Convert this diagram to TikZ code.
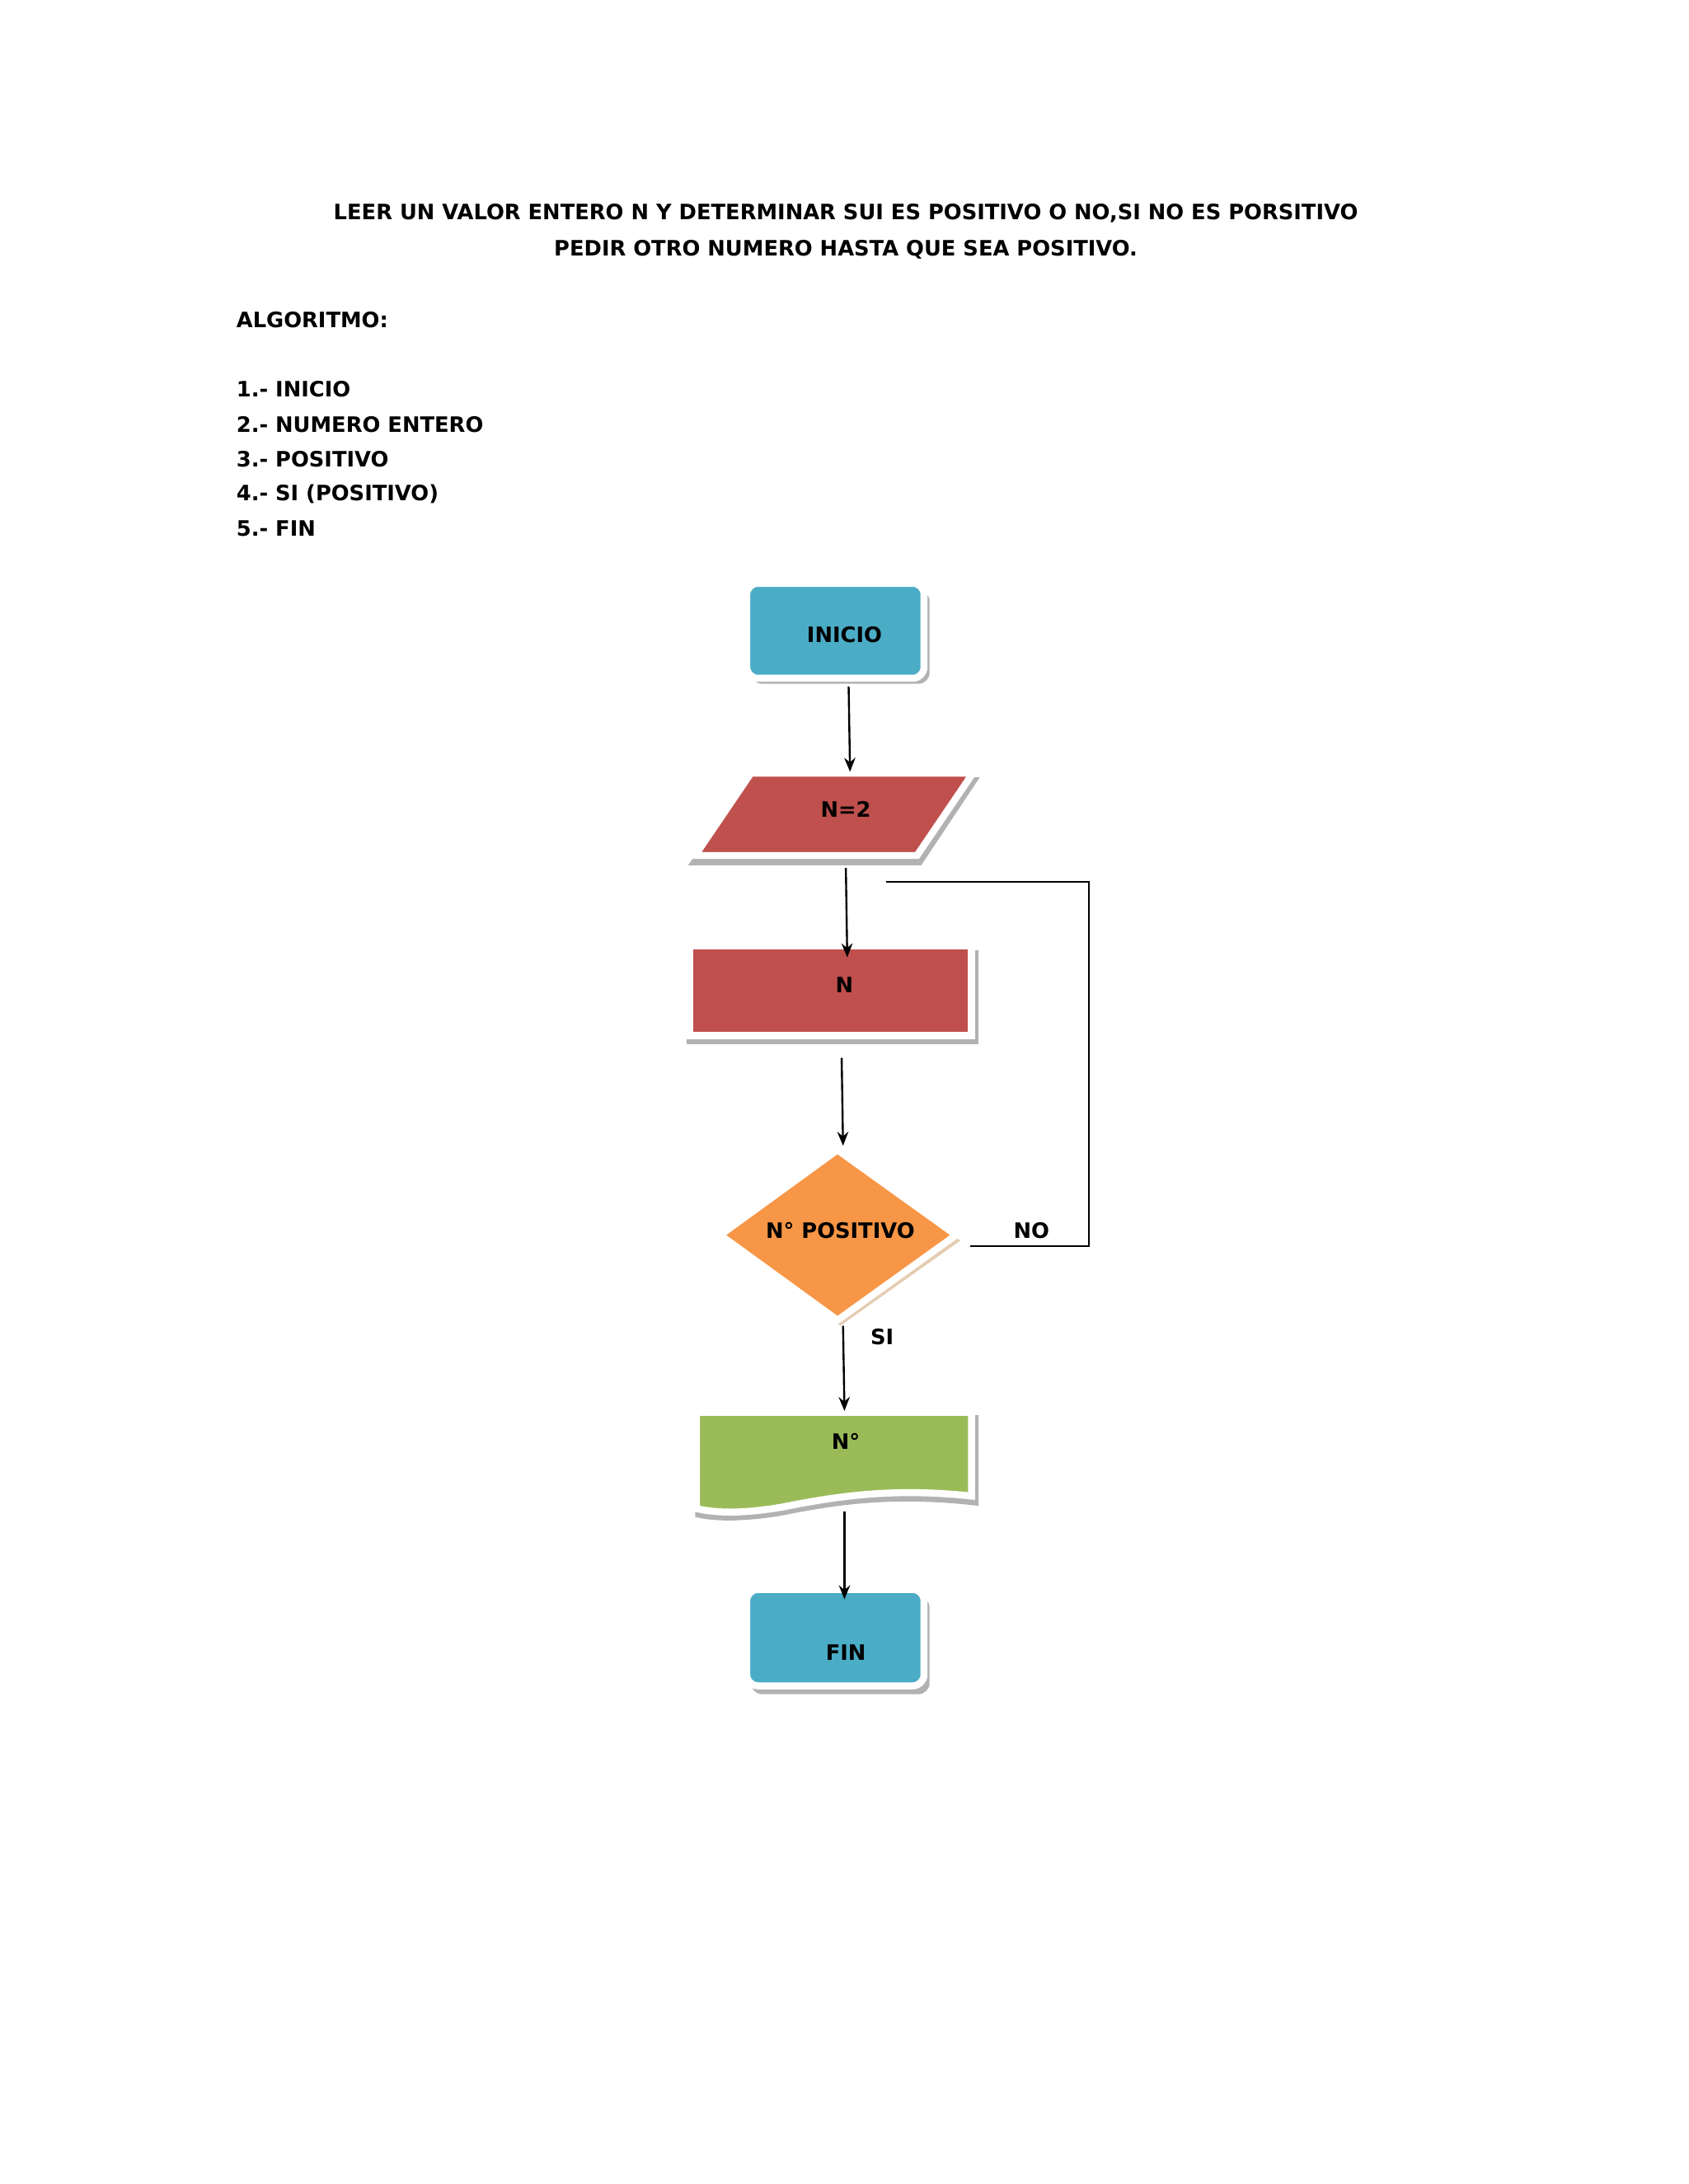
\documentclass[tikz,border=0pt]{standalone}
\usepackage{fontspec}
\setmainfont{DejaVu Sans}
\usetikzlibrary{shapes.geometric,arrows.meta}
\definecolor{cblue}{HTML}{4BACC6}
\definecolor{cred}{HTML}{C0504D}
\definecolor{corange}{HTML}{F79646}
\definecolor{cgreen}{HTML}{9BBB59}
\tikzset{
 txt/.style={font=\bfseries\fontsize{7.6}{9}\selectfont, inner sep=0pt},
 shp/.style={draw=white, line width=2.5pt},
 shd/.style={fill=black!30},
 arr/.style={-{Stealth[length=5pt,width=4pt]}, line width=0.7pt},
}
\begin{document}
\begin{tikzpicture}[x=0.5pt,y=-0.5pt]
\useasboundingbox (0,0) rectangle (1210,1565);
\node[txt] (t1) at (606,153) {LEER UN VALOR ENTERO N Y DETERMINAR SUI ES POSITIVO O NO,SI NO ES PORSITIVO};
\node[txt] (t2) at (606,179) {PEDIR OTRO NUMERO HASTA QUE SEA POSITIVO.};
\node[txt,anchor=west] (alg) at (169,229) {ALGORITMO:};
\node[txt,anchor=west] (l1) at (169,279) {1.- INICIO};
\node[txt,anchor=west] (l2) at (169,304) {2.- NUMERO ENTERO};
\node[txt,anchor=west] (l3) at (169,329) {3.- POSITIVO};
\node[txt,anchor=west] (l4) at (169,354) {4.- SI (POSITIVO)};
\node[txt,anchor=west] (l5) at (169,379) {5.- FIN};
% INICIO
\fill[shd,rounded corners=4pt] (538,423) rectangle (666,490);
\draw[shp,fill=cblue,rounded corners=4pt] (535,418) rectangle (662,486);
\node[txt] (ini) at (605,455) {INICIO};
% N=2
\fill[shd] (537,557) -- (702,557) -- (660,620) -- (493,620) -- cycle;
\draw[shp,fill=cred] (538,554) -- (697,554) -- (657,613) -- (498,613) -- cycle;
\node[txt] (n2) at (606,580) {N=2};
% N
\fill[shd] (492,681) rectangle (701,748);
\draw[shp,fill=cred] (494,678) rectangle (696,742);
\node[txt] (n) at (605,706) {N};
% diamond
\fill[fill=brown!40] (602,829) -- (688,889) -- (602,950) -- (518,889) -- cycle;
\draw[shp,fill=corange] (600,824) -- (685,885) -- (600,946) -- (516,885) -- cycle;
\node[txt] (pos) at (602,882) {N° POSITIVO};
% document
\fill[shd] (498,1014) -- (701,1014) -- (701,1079) .. controls (640,1072) and (600,1078) .. (560,1086) .. controls (530,1091) and (510,1090) .. (498,1087) -- cycle;
\draw[shp,fill=cgreen] (499,1012) -- (696,1012) -- (696,1072) .. controls (640,1066) and (600,1072) .. (560,1080) .. controls (530,1085) and (512,1084) .. (499,1081) -- cycle;
\node[txt] (doc) at (606,1033) {N°};
% FIN
\fill[shd,rounded corners=4pt] (538,1144) rectangle (666,1214);
\draw[shp,fill=cblue,rounded corners=4pt] (535,1139) rectangle (662,1208);
\node[txt] (fin) at (606,1184) {FIN};
% arrows
\coordinate (a1) at (608,492); \coordinate (b1) at (609,553);
\coordinate (a2) at (606,622); \coordinate (b2) at (607,686);
\coordinate (a3) at (603,758); \coordinate (b3) at (604,821);
\coordinate (a4) at (604,950); \coordinate (b4) at (605,1011);
\coordinate (a5) at (605,1083); \coordinate (b5) at (605,1146);
\draw[arr] (a1) -- (b1);
\draw[arr] (a2) -- (b2);
\draw[arr] (a3) -- (b3);
\draw[arr] (a4) -- (b4);
\draw[arr] (a5) -- (b5);
\coordinate (ls) at (695,893); \coordinate (le) at (635,632);
\draw[line width=0.6pt] (ls) -- (780,893) -- (780,632) -- (le);
\node[txt] (no) at (739,882) {NO};
\node[txt] (si) at (632,958) {SI};
\end{tikzpicture}
\end{document}
